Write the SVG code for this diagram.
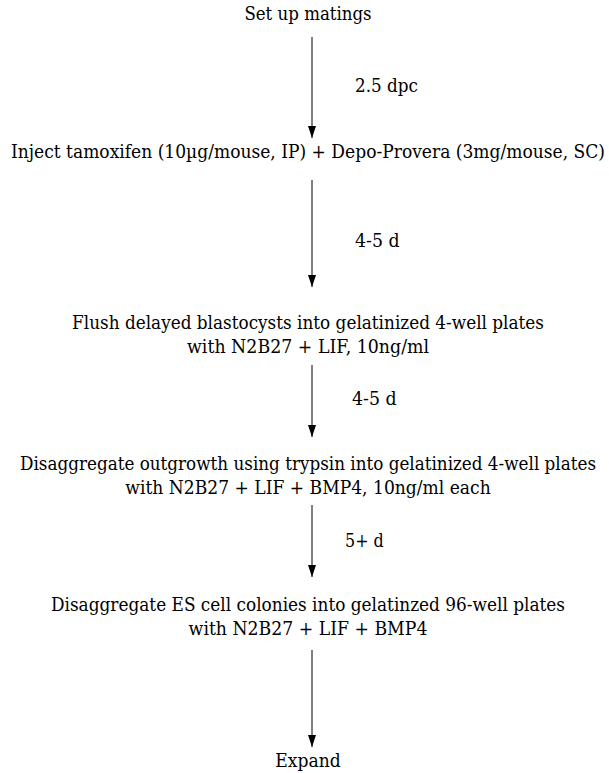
<svg xmlns="http://www.w3.org/2000/svg" width="609" height="773" viewBox="0 0 609 773">
<style>
text{font-family:'DejaVu Serif','Liberation Serif',serif;font-size:19px;fill:#000}
.n{text-anchor:middle}
.c{stroke:#000;stroke-width:1;fill:none}
</style>
<defs>
<marker id="ah" viewBox="0 0 12 8" refX="12" refY="4" markerWidth="12" markerHeight="8" markerUnits="userSpaceOnUse" orient="auto">
<path d="M0,0 L12,4 L0,8 Z" fill="#000"/>
</marker>
</defs>
<rect width="609" height="773" fill="#fff"/>
<g id="connectors">
<line class="c" x1="312" y1="37" x2="312" y2="138" marker-end="url(#ah)"/>
<line class="c" x1="312" y1="180" x2="312" y2="287" marker-end="url(#ah)"/>
<line class="c" x1="312" y1="365" x2="312" y2="437" marker-end="url(#ah)"/>
<line class="c" x1="312" y1="505" x2="312" y2="577" marker-end="url(#ah)"/>
<line class="c" x1="312" y1="650" x2="312" y2="747" marker-end="url(#ah)"/>
</g>
<g id="labels">
<text transform="translate(355,92) scale(0.87,1)" textLength="72.4" lengthAdjust="spacingAndGlyphs">2.5 dpc</text>
<text transform="translate(355,247) scale(0.87,1)" textLength="51.3" lengthAdjust="spacingAndGlyphs">4-5 d</text>
<text transform="translate(352,405) scale(0.87,1)" textLength="51.3" lengthAdjust="spacingAndGlyphs">4-5 d</text>
<text transform="translate(345,547) scale(0.87,1)" textLength="44.6" lengthAdjust="spacingAndGlyphs">5+ d</text>
</g>
<g id="n1"><text class="n" transform="translate(308,20) scale(0.87,1)" textLength="146.2" lengthAdjust="spacingAndGlyphs">Set up matings</text></g>
<g id="n2"><text class="n" transform="translate(308,158) scale(0.87,1)" textLength="682.8" lengthAdjust="spacingAndGlyphs">Inject tamoxifen (10µg/mouse, IP) + Depo-Provera (3mg/mouse, SC)</text></g>
<g id="n3"><text class="n" transform="translate(308,329) scale(0.87,1)" textLength="542.4" lengthAdjust="spacingAndGlyphs">Flush delayed blastocysts into gelatinized 4-well plates</text><text class="n" transform="translate(308,353) scale(0.87,1)" textLength="278.3" lengthAdjust="spacingAndGlyphs">with N2B27 + LIF, 10ng/ml</text></g>
<g id="n4"><text class="n" transform="translate(308,470) scale(0.87,1)" textLength="662.1" lengthAdjust="spacingAndGlyphs">Disaggregate outgrowth using trypsin into gelatinized 4-well plates</text><text class="n" transform="translate(308,494) scale(0.87,1)" textLength="420" lengthAdjust="spacingAndGlyphs">with N2B27 + LIF + BMP4, 10ng/ml each</text></g>
<g id="n5"><text class="n" transform="translate(308,611) scale(0.87,1)" textLength="590.9" lengthAdjust="spacingAndGlyphs">Disaggregate ES cell colonies into gelatinzed 96-well plates</text><text class="n" transform="translate(308,635) scale(0.87,1)" textLength="274.5" lengthAdjust="spacingAndGlyphs">with N2B27 + LIF + BMP4</text></g>
<g id="n6"><text class="n" transform="translate(308,767) scale(0.87,1)" textLength="75.2" lengthAdjust="spacingAndGlyphs">Expand</text></g>
</svg>
